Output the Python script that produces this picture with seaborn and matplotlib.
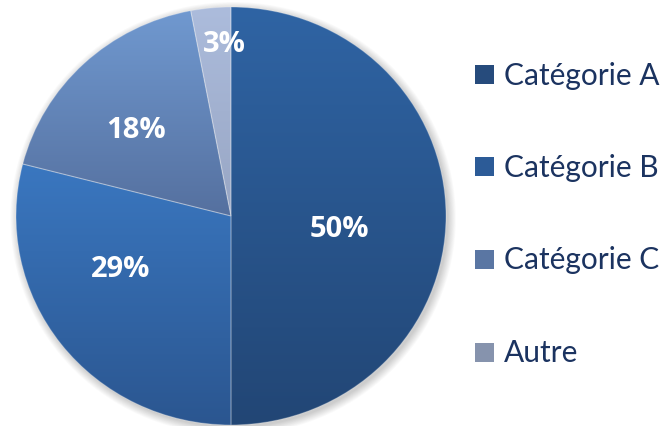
import numpy as np
import matplotlib
matplotlib.use("Agg")
import matplotlib.pyplot as plt
from matplotlib.colors import LinearSegmentedColormap
from matplotlib.patches import Ellipse, Rectangle
import seaborn as sns

# Répartition par catégorie (en %)
categories = ["Catégorie A", "Catégorie B", "Catégorie C", "Autre"]
shares = [50, 29, 18, 3]

# Dégradés des secteurs (haut -> bas) et couleurs de la légende
top_colors = ["#2f64a4", "#3a77c0", "#7099d0", "#acbcdc"]
bottom_colors = ["#224675", "#2b5690", "#55709f", "#98a6c4"]
legend_colors = ["#264b7c", "#2c5b97", "#5a76a3", "#8693ad"]

# Position des étiquettes de pourcentage (coordonnées du camembert)
label_pos = [(0.502, -0.062), (-0.512, -0.249), (-0.44, 0.416), (-0.03, 0.823)]

sns.set_theme(style="white")
plt.rcParams["font.family"] = ["Open Sans", "DejaVu Sans"]

W, H = 663, 427
fig = plt.figure(figsize=(W / 100, H / 100), dpi=100)
fig.patch.set_facecolor("white")

# Camembert : centre (231, 217) px, rayons 215 x 209 px
cx, cy, rx, ry = 231, 217, 215, 209
ax = fig.add_axes([(cx - rx) / W, (H - cy - ry) / H, 2 * rx / W, 2 * ry / H])

wedges, texts, autotexts = ax.pie(
    shares,
    startangle=90,
    counterclock=False,
    radius=1,
    autopct=lambda p: f"{p:.0f}%",
    wedgeprops=dict(linewidth=0.8, edgecolor=(1, 1, 1, 0.25)),
    textprops=dict(color="white", fontsize=21, fontweight="bold"),
)
ax.set_xlim(-1, 1)
ax.set_ylim(-1, 1)
ax.set_aspect("auto")
ax.axis("off")

# Ombre douce autour du disque
for k in range(10):
    e = Ellipse((0.01, -0.012), 2 + 0.008 * k, 2 + 0.008 * k,
                facecolor="black", edgecolor="none", alpha=0.018,
                zorder=0, clip_on=False)
    ax.add_patch(e)

# Remplissage en dégradé vertical de chaque secteur
grad = np.linspace(0, 1, 256).reshape(-1, 1)
for w, ct, cb in zip(wedges, top_colors, bottom_colors):
    verts = w.get_path().vertices
    ymin, ymax = verts[:, 1].min(), verts[:, 1].max()
    xmin, xmax = verts[:, 0].min(), verts[:, 0].max()
    cmap = LinearSegmentedColormap.from_list("g", [ct, cb])
    im = ax.imshow(grad, extent=[xmin, xmax, ymin, ymax], origin="upper",
                   aspect="auto", cmap=cmap, zorder=1, interpolation="bilinear")
    im.set_clip_path(w)
    w.set_facecolor("none")
    w.set_zorder(2)

for t, (x, y) in zip(autotexts, label_pos):
    t.set_position((x, y))
    t.set_zorder(3)
    t.set_ha("center")
    t.set_va("center")

# Légende à droite
row_y = [75.7, 167.5, 260, 353]
sq = 19
for name, col, y in zip(categories, legend_colors, row_y):
    fig.patches.append(Rectangle((475 / W, (H - y - sq / 2) / H), sq / W, sq / H,
                                 transform=fig.transFigure, facecolor=col,
                                 edgecolor="none"))
    fig.text(504 / W, (H - y - 9.5) / H, name, fontsize=21.5, color="#1b3360",
             family=["Lato", "DejaVu Sans"], va="baseline", ha="left")

fig.savefig("out.png", dpi=100, facecolor="white")
